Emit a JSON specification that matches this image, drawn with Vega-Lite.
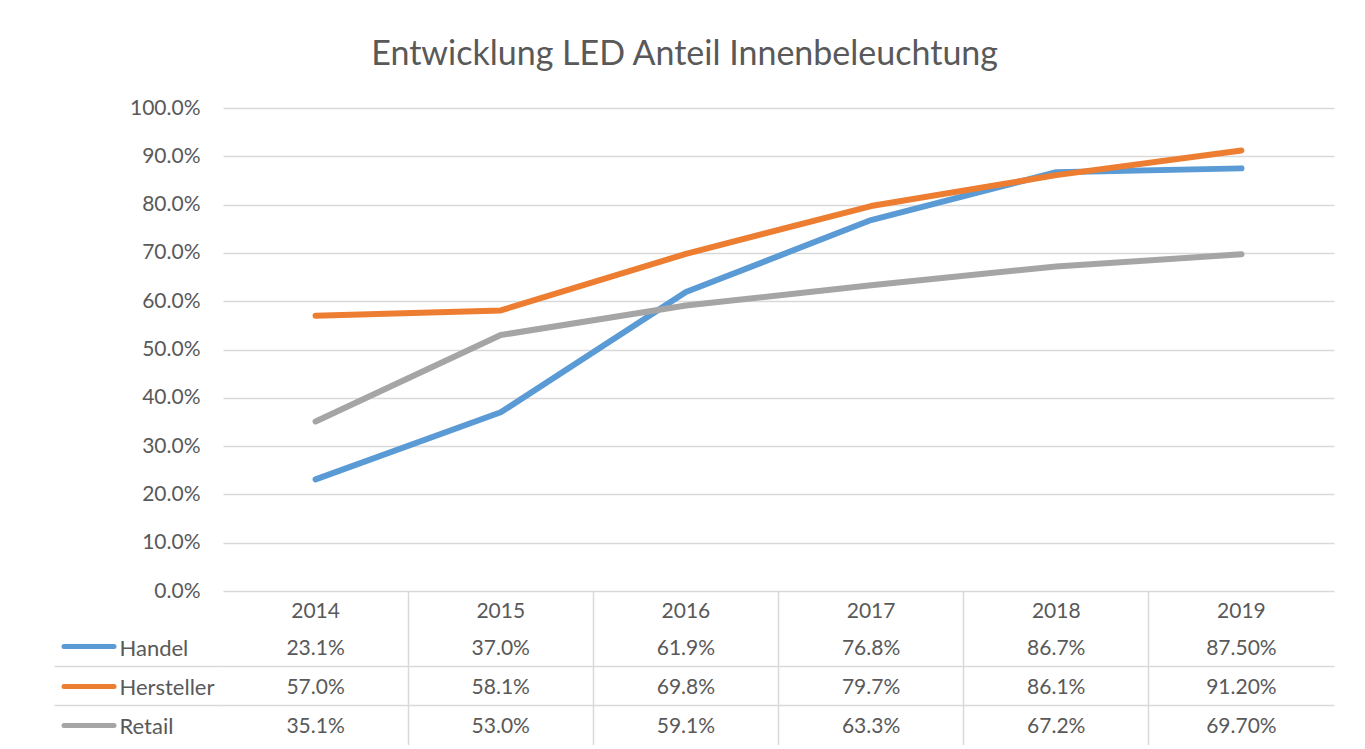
{
  "$schema": "https://vega.github.io/schema/vega-lite/v6.json",
  "background": "white",
  "padding": {"left": 53, "top": 38, "right": 5, "bottom": 0},
  "title": {"text": "Entwicklung LED Anteil Innenbeleuchtung", "font": "Lato", "fontSize": 34, "fontWeight": "normal", "color": "#595959", "anchor": "middle", "offset": 25, "dx": -9},
  "config": {
    "font": "Lato",
    "view": {"stroke": null},
    "axis": {"labelFont": "Lato", "labelColor": "#595959", "labelFontSize": 21, "title": null}
  },
  "spacing": 0,
  "bounds": "flush",
  "datasets": {
    "led": [
      {"year": "2014", "series": "Handel", "value": 0.231, "label": "23.1%"},
      {"year": "2015", "series": "Handel", "value": 0.370, "label": "37.0%"},
      {"year": "2016", "series": "Handel", "value": 0.619, "label": "61.9%"},
      {"year": "2017", "series": "Handel", "value": 0.768, "label": "76.8%"},
      {"year": "2018", "series": "Handel", "value": 0.867, "label": "86.7%"},
      {"year": "2019", "series": "Handel", "value": 0.875, "label": "87.50%"},
      {"year": "2014", "series": "Hersteller", "value": 0.570, "label": "57.0%"},
      {"year": "2015", "series": "Hersteller", "value": 0.581, "label": "58.1%"},
      {"year": "2016", "series": "Hersteller", "value": 0.698, "label": "69.8%"},
      {"year": "2017", "series": "Hersteller", "value": 0.797, "label": "79.7%"},
      {"year": "2018", "series": "Hersteller", "value": 0.861, "label": "86.1%"},
      {"year": "2019", "series": "Hersteller", "value": 0.912, "label": "91.20%"},
      {"year": "2014", "series": "Retail", "value": 0.351, "label": "35.1%"},
      {"year": "2015", "series": "Retail", "value": 0.530, "label": "53.0%"},
      {"year": "2016", "series": "Retail", "value": 0.591, "label": "59.1%"},
      {"year": "2017", "series": "Retail", "value": 0.633, "label": "63.3%"},
      {"year": "2018", "series": "Retail", "value": 0.672, "label": "67.2%"},
      {"year": "2019", "series": "Retail", "value": 0.697, "label": "69.70%"}
    ]
  },
  "vconcat": [
    {
      "width": 1111,
      "height": 483,
      "data": {"name": "led"},
      "mark": {"type": "line", "strokeWidth": 6, "strokeCap": "round", "strokeJoin": "round"},
      "encoding": {
        "x": {"field": "year", "type": "ordinal", "scale": {"type": "point", "padding": 0.5}, "axis": null},
        "y": {
          "field": "value", "type": "quantitative",
          "scale": {"domain": [0, 1]},
          "axis": {"values": [0, 0.1, 0.2, 0.3, 0.4, 0.5, 0.6, 0.7, 0.8, 0.9, 1], "format": ".1%", "domain": false, "ticks": false, "labelPadding": 23, "gridColor": "#d9d9d9", "gridWidth": 1.5}
        },
        "color": {
          "field": "series", "type": "nominal",
          "scale": {"domain": ["Handel", "Hersteller", "Retail"], "range": ["#5B9BD5", "#ED7D31", "#A5A5A5"]},
          "legend": null
        }
      }
    },
    {
      "width": 1111,
      "height": 154,
      "data": {"name": "led"},
      "encoding": {
        "x": {
          "field": "year", "type": "ordinal",
          "scale": {"type": "band", "paddingInner": 0, "paddingOuter": 0},
          "axis": {
            "orient": "top", "domain": false, "ticks": false, "labelAngle": 0,
            "labelPadding": -20, "labelBaseline": "middle",
            "grid": true, "bandPosition": 0, "gridWidth": 1.5,
            "gridColor": {"condition": {"test": "datum.value === '2014'", "value": "transparent"}, "value": "#d9d9d9"}
          }
        },
        "text": {"field": "label"}
      },
      "layer": [
        {
          "transform": [{"filter": {"field": "year", "oneOf": ["2014", "2015", "2016"]}}],
          "mark": {"type": "text", "fontSize": 21, "color": "#595959", "align": "center", "baseline": "middle", "dy": 2},
          "encoding": {
            "y": {
              "field": "series", "type": "nominal", "sort": ["Handel", "Hersteller", "Retail"],
              "scale": {"type": "band", "paddingInner": 0, "paddingOuter": 0.458, "align": 1},
              "axis": {
                "orient": "left", "offset": 109.5, "domain": false, "grid": false,
                "ticks": true, "tickSize": 50, "tickWidth": 5, "tickCap": "round",
                "tickColor": {"condition": [{"test": "datum.value === 'Handel'", "value": "#5B9BD5"}, {"test": "datum.value === 'Hersteller'", "value": "#ED7D31"}], "value": "#A5A5A5"},
                "labelAlign": "left", "labelBaseline": "middle", "labelPadding": -55.5, "labelFontSize": 22, "labelOffset": 2
              }
            }
          }
        },
        {
          "transform": [{"filter": {"field": "year", "oneOf": ["2017", "2018", "2019"]}}],
          "mark": {"type": "text", "fontSize": 21, "color": "#595959", "align": "center", "baseline": "middle", "dy": 2},
          "encoding": {
            "y": {
              "field": "series", "type": "nominal", "sort": ["Handel", "Hersteller", "Retail"],
              "axis": {
                "orient": "left", "domain": false, "labels": false,
                "ticks": true, "tickSize": 169, "tickWidth": 1.5, "bandPosition": 0,
                "tickColor": {"condition": {"test": "datum.value === 'Handel'", "value": "transparent"}, "value": "#d9d9d9"},
                "grid": true, "gridWidth": 1.5,
                "gridColor": {"condition": {"test": "datum.value === 'Handel'", "value": "transparent"}, "value": "#d9d9d9"}
              }
            }
          }
        }
      ],
      "resolve": {"axis": {"y": "independent"}}
    }
  ]
}
